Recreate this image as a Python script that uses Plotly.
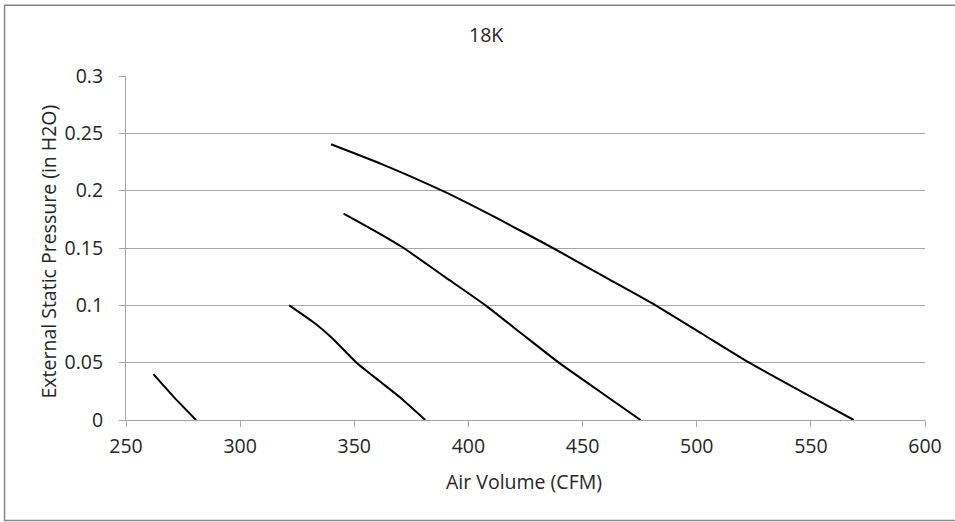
import plotly.graph_objects as go

# Fan curves: Air Volume (CFM) vs External Static Pressure (in H2O)
speed1_cfm = [262, 271, 280.7]
speed1_esp = [0.04, 0.02, 0.0]

speed2_cfm = [321.5, 333, 340, 351, 361, 370.5, 381.1]
speed2_esp = [0.10, 0.084, 0.072, 0.05, 0.034, 0.019, 0.0]

speed3_cfm = [345.3, 358, 371.6, 389.5, 407.5, 423.5, 439.6, 460.8, 475.4]
speed3_esp = [0.18, 0.166, 0.15, 0.125, 0.10, 0.075, 0.05, 0.0203, 0.0]

speed4_cfm = [339.8, 362, 388.5, 412.5, 437, 459.5, 482, 502.5, 523, 551.2, 568.8]
speed4_esp = [0.2405, 0.2232, 0.20, 0.176, 0.15, 0.125, 0.10, 0.075, 0.05, 0.019, 0.0]

x_ticks = [250, 300, 350, 400, 450, 500, 550, 600]
y_ticks = [0, 0.05, 0.1, 0.15, 0.2, 0.25, 0.3]
y_tick_labels = ["0", "0.05", "0.1", "0.15", "0.2", "0.25", "0.3"]

FONT = "Open Sans"
TXT = "#262626"
FS = 19.5

fig = go.Figure()
for xs, ys in [(speed1_cfm, speed1_esp), (speed2_cfm, speed2_esp),
               (speed3_cfm, speed3_esp), (speed4_cfm, speed4_esp)]:
    fig.add_trace(go.Scatter(x=xs, y=ys, mode="lines",
                             line=dict(color="black", width=2, shape="spline", smoothing=0.5),
                             showlegend=False, hoverinfo="x+y"))

fig.update_layout(
    width=955, height=522,
    margin=dict(l=126, r=30, t=76, b=102),
    paper_bgcolor="white", plot_bgcolor="white",
    font=dict(family=FONT, size=FS, color=TXT),
    showlegend=False,
    xaxis=dict(range=[250, 600], tickvals=x_ticks, showgrid=False,
               showline=True, linecolor="#a6a6a6", linewidth=1,
               ticks="outside", ticklen=6, tickcolor="#a6a6a6",
               tickfont=dict(family=FONT, size=FS, color=TXT),
               zeroline=False, ticklabelstandoff=3),
    yaxis=dict(range=[0, 0.3], tickvals=y_ticks, ticktext=y_tick_labels,
               showgrid=True, gridcolor="#a6a6a6", gridwidth=1,
               showline=True, linecolor="#a6a6a6", linewidth=1,
               ticks="outside", ticklen=6, tickcolor="#a6a6a6",
               tickfont=dict(family=FONT, size=FS, color=TXT),
               zeroline=False, ticklabelstandoff=12),
    annotations=[
        dict(text="18K", x=0.450, y=1.122, xref="paper", yref="paper",
             showarrow=False, xanchor="center", yanchor="middle",
             font=dict(family=FONT, size=FS, color=TXT)),
        dict(text="Air Volume (CFM)", x=0.498, y=-0.180, xref="paper", yref="paper",
             showarrow=False, xanchor="center", yanchor="middle",
             font=dict(family=FONT, size=FS, color=TXT)),
        dict(text="External Static Pressure (in H2O)", x=-0.0964, y=0.4898,
             xref="paper", yref="paper", textangle=-90,
             showarrow=False, xanchor="center", yanchor="middle",
             font=dict(family=FONT, size=FS, color=TXT)),
    ],
    shapes=[
        dict(type="rect", xref="paper", yref="paper",
             x0=-0.152, x1=1.051, y0=-0.292, y1=1.206,
             line=dict(color="#868686", width=1.5), fillcolor="rgba(0,0,0,0)",
             layer="below"),
    ],
)

fig.write_html("out.html", config={"displayModeBar": False},
               post_script="document.body.style.margin='0px';document.body.style.overflow='hidden';")
